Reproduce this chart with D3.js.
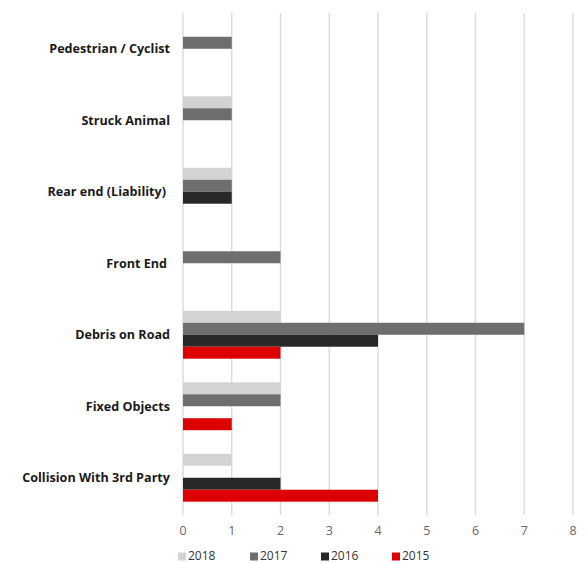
<!DOCTYPE html>
<html><head><meta charset="utf-8">
<script src="https://cdn.jsdelivr.net/npm/d3@7/dist/d3.min.js"></script>
<style>body{margin:0;background:#fff}svg{display:block}</style>
</head><body>
<script>
const categories = ["Pedestrian / Cyclist","Struck Animal","Rear end (Liability)","Front End","Debris on Road","Fixed Objects","Collision With 3rd Party"];
const seriesNames = ["2018","2017","2016","2015"];
const v2018 = [0,1,1,0,2,2,1];
const v2017 = [1,1,1,2,7,2,0];
const v2016 = [0,0,1,0,4,0,2];
const v2015 = [0,0,0,0,2,1,4];
const colors = ["#d3d3d3","#6e6e6e","#282828","#dd0000"];
const xTicks = [0,1,2,3,4,5,6,7,8];

const W=587,H=563;
const svg=d3.select("body").append("svg").attr("width",W).attr("height",H);
const x=d3.scaleLinear().domain([0,8]).range([183,573]);
const y=d3.scaleBand().domain(categories).range([13,513.5]).paddingInner(0.33).paddingOuter(0.165);
const ySub=d3.scaleBand().domain(seriesNames).range([0,y.bandwidth()]);
const values=[v2018,v2017,v2016,v2015];

svg.append("g").selectAll("line").data(xTicks).join("line")
 .attr("x1",d=>x(d)).attr("x2",d=>x(d)).attr("y1",13).attr("y2",515)
 .attr("stroke","#d9d9d9").attr("stroke-width",1.3);

const g=svg.append("g");
seriesNames.forEach((s,i)=>{
  g.append("g").selectAll("rect").data(categories.map((c,j)=>({c,v:values[i][j]})).filter(d=>d.v>0)).join("rect")
   .attr("x",x(0)).attr("y",d=>y(d.c)+ySub(s)).attr("width",d=>x(d.v)-x(0)).attr("height",ySub.bandwidth())
   .attr("fill",colors[i]);
});

const labelEnd={"Rear end (Liability)":166,"Front End":167};
svg.append("g").selectAll("text").data(categories).join("text")
 .attr("x",d=>labelEnd[d]||170).attr("y",d=>y(d)+y.bandwidth()/2).attr("dy","0.35em")
 .attr("text-anchor","end").attr("font-family","'Open Sans', sans-serif").attr("font-weight","bold")
 .attr("font-size",12.6).attr("fill","#1a1a1a").text(d=>d);

svg.append("g").selectAll("text").data(xTicks).join("text")
 .attr("x",d=>x(d)).attr("y",531).attr("dy","0.35em").attr("text-anchor","middle")
 .attr("font-family","'Open Sans', sans-serif").attr("font-size",12.5).attr("fill","#666").text(d=>d);

const legX=[178,250,321,392];
const leg=svg.append("g").selectAll("g").data(seriesNames).join("g")
 .attr("transform",(d,i)=>`translate(${legX[i]},556)`);
leg.append("rect").attr("x",0).attr("y",-3.5).attr("width",8).attr("height",8).attr("fill",(d,i)=>colors[i]);
leg.append("text").attr("x",10).attr("y",0).attr("dy","0.35em").attr("font-family","'Open Sans', sans-serif")
 .attr("font-size",12).attr("fill","#333").text(d=>d);
</script>
</body></html>
